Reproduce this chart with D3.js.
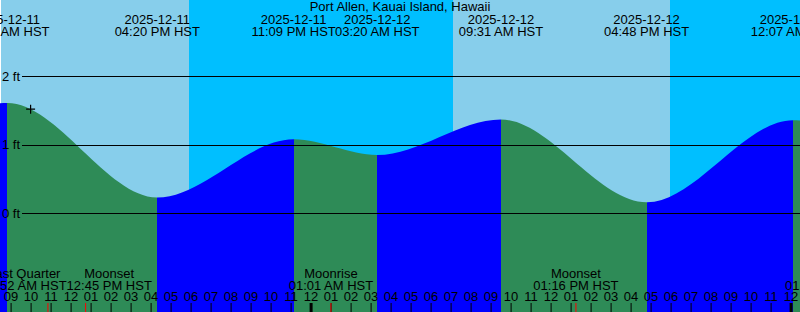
<!DOCTYPE html>
<html>
<head>
<meta charset="utf-8">
<script src="https://cdn.jsdelivr.net/npm/d3@7/dist/d3.min.js"></script>
<style>
  body { margin: 0; background: #fff; }
  svg { display: block; }
</style>
</head>
<body>
<script>
// Port Allen tide graph, 2025-12-11 .. 2025-12-13 (HST)

var title = "Port Allen, Kauai Island, Hawaii";

// tide extremes (first and last ones lie just outside the window)
var tideTimes = ["2025-12-11 02:40", "2025-12-11 08:50", "2025-12-11 16:20", "2025-12-11 23:09",
                 "2025-12-12 03:20", "2025-12-12 09:31", "2025-12-12 16:48", "2025-12-13 00:07",
                 "2025-12-13 04:10"];
var tideHeights = [0.75, 1.61, 0.23, 1.08, 0.85, 1.37, 0.16, 1.36, 0.8];

// daylight
var sunTimes = ["2025-12-11 17:56", "2025-12-12 07:08", "2025-12-12 17:57"];
var sunKinds = ["set", "rise", "set"];

// moon events
var moonTimes = ["2025-12-11 10:52", "2025-12-11 12:45", "2025-12-12 01:01", "2025-12-12 13:16", "2025-12-13 01:50"];
var moonNames = ["Last Quarter", "Moonset", "Moonrise", "Moonset", "Moonrise"];

// gridlines (ft)
var levels = [0, 1, 2];

// current time mark
var nowTime = "2025-12-11 10:00";
var nowHeight = 1.52;

var W = 800, H = 312;
var dayColor = "#87CEEB";
var nightColor = "#00BFFF";
var risingColor = "#0000FF";
var fallingColor = "#2E8B57";
var fontFamily = "'Liberation Sans', Arial, sans-serif";
var fontSize = "13px";

var parse = d3.timeParse("%Y-%m-%d %H:%M");
var fmtDate = d3.timeFormat("%Y-%m-%d");
var fmtTime = d3.timeFormat("%I:%M %p HST");

var tides = tideTimes.map(function (t, i) { return { t: parse(t), h: tideHeights[i] }; });

var x = d3.scaleTime()
    .domain([parse("2025-12-11 08:30"), parse("2025-12-13 00:30")])
    .range([0.6, W + 0.6]);
var y = d3.scaleLinear().domain([0, 2]).range([213.3, 76.3]);

var svg = d3.select("body").append("svg")
    .attr("width", W)
    .attr("height", H)
    .attr("font-family", fontFamily)
    .attr("font-size", fontSize);

// sky: day / night bands
var edges = [x.domain()[0]].concat(sunTimes.map(parse)).concat([x.domain()[1]]);
var bands = [];
for (var i = 0; i < edges.length - 1; i++) {
    var night = i > 0 && sunKinds[i - 1] === "set";
    bands.push({ a: edges[i], b: edges[i + 1], night: night });
}
svg.selectAll("rect.sky").data(bands).enter().append("rect")
    .attr("class", "sky")
    .attr("x", function (d) { return Math.round(x(d.a)); })
    .attr("y", 0)
    .attr("width", function (d) { return Math.round(x(d.b)) - Math.round(x(d.a)); })
    .attr("height", H)
    .attr("shape-rendering", "crispEdges")
    .attr("fill", function (d) { return d.night ? nightColor : dayColor; });

// tide area split into rising / falling segments
var area = d3.area()
    .x(function (d) { return x(d.t); })
    .y0(H)
    .y1(function (d) { return y(d.h); })
    .curve(d3.curveMonotoneX);

var defs = svg.append("defs");
var segs = d3.pairs(tides);
segs.forEach(function (s, i) {
    var xa = Math.round(x(s[0].t)), xb = Math.round(x(s[1].t));
    defs.append("clipPath").attr("id", "seg" + i)
        .append("rect")
        .attr("x", xa)
        .attr("y", 0)
        .attr("width", xb - xa)
        .attr("height", H);
    svg.append("path")
        .datum(tides)
        .attr("d", area)
        .attr("clip-path", "url(#seg" + i + ")")
        .attr("fill", s[1].h > s[0].h ? risingColor : fallingColor);
});

// level lines + labels
svg.selectAll("line.level").data(levels).enter().append("line")
    .attr("x1", 22).attr("x2", W)
    .attr("y1", function (d) { return Math.round(y(d)) + 0.5; })
    .attr("y2", function (d) { return Math.round(y(d)) + 0.5; })
    .attr("stroke", "black");
svg.selectAll("text.level").data(levels).enter().append("text")
    .attr("x", 20)
    .attr("y", function (d) { return y(d) + 4.5; })
    .attr("text-anchor", "end")
    .text(function (d) { return d + " ft"; });

// title
svg.append("text")
    .attr("x", W / 2).attr("y", 11)
    .attr("text-anchor", "middle")
    .text(title);

// tide event labels at top
var tideLabels = svg.selectAll("g.tlab").data(tides).enter().append("g")
    .attr("transform", function (d) { return "translate(" + x(d.t) + ",0)"; })
    .attr("text-anchor", "middle");
tideLabels.append("text").attr("y", 24).text(function (d) { return fmtDate(d.t); });
tideLabels.append("text").attr("y", 36).text(function (d) { return fmtTime(d.t); });

// moon labels, pushed apart where they overlap
var moons = moonTimes.map(function (t, i) { return { t: parse(t), name: moonNames[i] }; });
var mg = svg.selectAll("g.mlab").data(moons).enter().append("g")
    .attr("text-anchor", "middle");
mg.append("text").attr("y", 278).text(function (d) { return d.name; });
mg.append("text").attr("y", 290).text(function (d) { return fmtTime(d.t); });
mg.each(function (d) {
    d.cx = x(d.t);
    d.w = d3.max(d3.select(this).selectAll("text").nodes(), function (n) { return n.getComputedTextLength(); });
});
for (var k = 1; k < moons.length; k++) {
    var p = moons[k - 1], q = moons[k];
    var over = (p.w + q.w) / 2 - (q.cx - p.cx);
    if (over > 0) { p.cx -= over / 2; q.cx += over / 2; }
}
mg.attr("transform", function (d) { return "translate(" + d.cx + ",0)"; });

// hour axis along the bottom
var axis = d3.axisTop(x)
    .ticks(d3.timeHour.every(1))
    .tickFormat(d3.timeFormat("%I"))
    .tickSizeInner(9)
    .tickSizeOuter(0)
    .tickPadding(2);
var ax = svg.append("g")
    .attr("transform", "translate(0," + H + ")")
    .call(axis);
ax.select(".domain").remove();
ax.attr("font-family", fontFamily).attr("font-size", fontSize);
ax.selectAll(".tick text").attr("fill", "black");
ax.selectAll(".tick line").attr("stroke", "black")
    .filter(function (d) { return d.getHours() === 0; })
    .attr("stroke-width", 3);

// moon event ticks
svg.selectAll("line.moon").data(moons).enter().append("line")
    .attr("x1", function (d) { return x(d.t); })
    .attr("x2", function (d) { return x(d.t); })
    .attr("y1", H - 9).attr("y2", H)
    .attr("stroke", "red");

// "now" cross
var nx = x(parse(nowTime)), ny = y(nowHeight);
svg.append("path")
    .attr("d", "M" + (nx - 4.5) + "," + ny + "H" + (nx + 4.5) + "M" + nx + "," + (ny - 4.5) + "V" + (ny + 4.5))
    .attr("stroke", "black")
    .attr("stroke-width", 1.2);
</script>
</body>
</html>
